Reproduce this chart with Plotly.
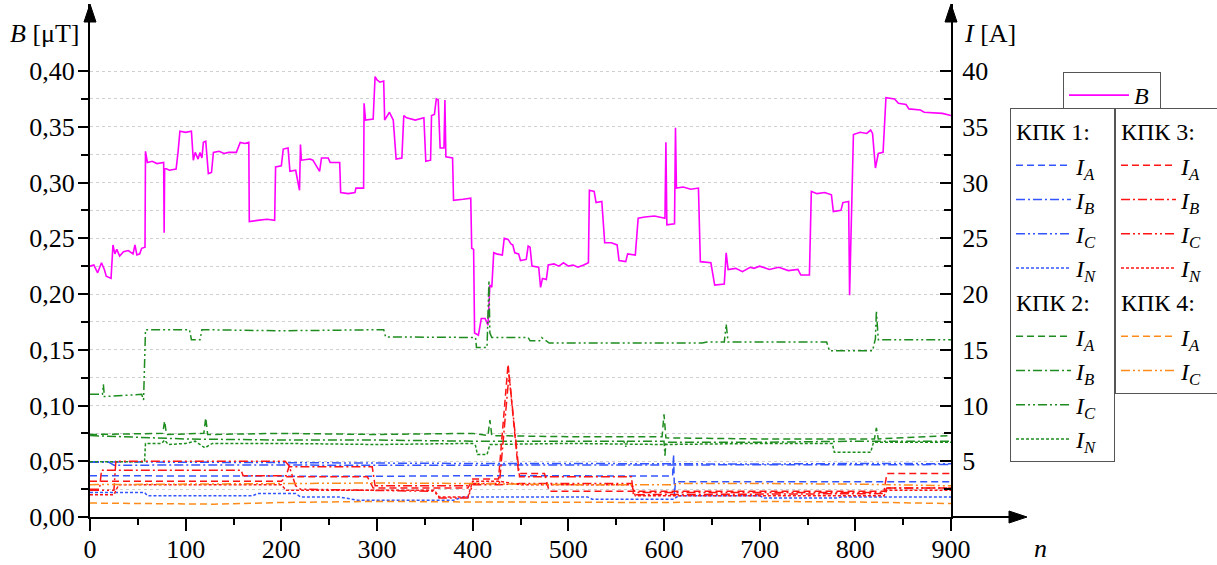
import plotly.graph_objects as go

# ---------------- data ----------------
B_n = [0, 4, 8, 12, 15, 17, 22, 24, 26, 28, 31, 35, 40, 45, 47, 49, 52, 54, 57.5,
       58, 60, 65, 70, 77, 77.5, 78, 83, 90, 92, 94, 100, 106, 108, 110, 113, 115, 117,
       118.5, 121, 123.7, 127, 129, 135, 140, 145, 153, 157, 162, 166, 166.5, 175, 185,
       193, 194, 200, 202, 207, 209, 215, 219, 220, 221, 230, 233, 240, 242, 249, 251,
       261, 262, 270, 277, 278, 286, 286.5, 288, 296, 298, 300, 303, 307, 308, 313, 317,
       320, 326, 328, 331, 340, 349, 351, 356, 357, 360, 362, 364, 366, 370, 371, 372,
       379, 380, 390, 398, 399, 401, 402, 406, 409, 413, 416, 418, 420, 422, 425, 431,
       433, 437, 440, 442, 444, 448, 450, 456, 458, 460, 462, 469, 471, 473, 477, 479,
       485, 490, 495, 500, 505, 510, 516, 521, 522, 527, 529, 535, 538, 545, 551, 553,
       560, 562, 570, 573, 580, 590, 601, 602, 603, 611, 612, 613, 620, 628, 636, 638,
       649, 653, 663, 665, 667, 675, 682, 690, 694, 700, 710, 720, 730, 740, 743, 752,
       754, 760, 768, 775, 777, 785, 787, 793, 794, 796, 798, 805, 812, 816, 818, 821,
       824, 829, 832, 841, 845, 853, 856, 868, 872, 891, 895, 900]
B_val = [0.225, 0.226, 0.219, 0.228, 0.222, 0.216, 0.214, 0.244, 0.236, 0.240, 0.234,
         0.238, 0.239, 0.236, 0.244, 0.235, 0.236, 0.241, 0.242,
         0.328, 0.318, 0.319, 0.317, 0.318, 0.255, 0.313, 0.311, 0.312, 0.327, 0.346,
         0.345, 0.346, 0.320, 0.327, 0.321, 0.327, 0.322,
         0.336, 0.337, 0.308, 0.309, 0.327, 0.328, 0.326, 0.327, 0.327, 0.336, 0.335,
         0.336, 0.265, 0.266, 0.267,
         0.266, 0.314, 0.315, 0.330, 0.331, 0.310, 0.311, 0.293, 0.334, 0.320, 0.321,
         0.320, 0.310, 0.322, 0.322, 0.318,
         0.318, 0.291, 0.290, 0.291, 0.295, 0.295, 0.371, 0.356, 0.357, 0.395, 0.392,
         0.390, 0.391, 0.356, 0.363, 0.356,
         0.321, 0.322, 0.360, 0.358, 0.356, 0.358, 0.319, 0.320, 0.360, 0.361, 0.375,
         0.374, 0.331, 0.331, 0.374, 0.323,
         0.322, 0.284, 0.285, 0.286, 0.241, 0.240, 0.165, 0.163, 0.178, 0.178, 0.172,
         0.208, 0.206, 0.237, 0.236, 0.235,
         0.250, 0.249, 0.245, 0.244, 0.237, 0.236, 0.230, 0.231, 0.243, 0.242, 0.225,
         0.224, 0.206, 0.214, 0.213, 0.226,
         0.227, 0.225, 0.228, 0.225, 0.226, 0.224, 0.226, 0.228, 0.293, 0.292, 0.282,
         0.283, 0.246, 0.246, 0.244, 0.230,
         0.229, 0.236, 0.235, 0.268, 0.269, 0.270, 0.268, 0.336, 0.262, 0.263, 0.349,
         0.295, 0.296, 0.294, 0.295, 0.229,
         0.228, 0.208, 0.209, 0.237, 0.222, 0.223, 0.220, 0.224, 0.223, 0.225, 0.222,
         0.224, 0.221, 0.222, 0.217, 0.217,
         0.292, 0.290, 0.291, 0.289, 0.274, 0.275, 0.282, 0.283, 0.199, 0.278, 0.343,
         0.345, 0.344, 0.347, 0.344, 0.313,
         0.326, 0.327, 0.376, 0.375, 0.371, 0.370, 0.366, 0.365, 0.363, 0.362, 0.361, 0.360]

# KPK 1 (blue)
k1_IA_n = [0, 100, 200, 300, 400, 500, 609, 610, 611, 612, 700, 800, 900]
k1_IA = [3.70, 3.68, 3.70, 3.65, 3.70, 3.68, 3.68, 5.6, 2.0, 3.17, 3.18, 3.15, 3.17]
k1_IB_n = [0, 20, 25, 100, 200, 300, 400, 500, 600, 700, 800, 900]
k1_IB = [4.9, 4.9, 4.65, 4.68, 4.66, 4.64, 4.66, 4.68, 4.66, 4.70, 4.72, 4.70]
k1_IC_n = [0, 100, 200, 300, 400, 500, 600, 700, 800, 900]
k1_IC = [4.95, 4.9, 4.85, 4.85, 4.8, 4.8, 4.75, 4.75, 4.8, 4.78]
k1_IN_n = [0, 57, 60, 170, 175, 215, 220, 260, 280, 380, 390, 520, 525, 610, 615,
           700, 705, 780, 785, 900]
k1_IN = [2.2, 2.2, 1.9, 1.9, 2.1, 2.1, 1.8, 1.8, 1.5, 1.5, 1.8, 1.8, 1.6, 1.6, 1.9,
         1.9, 1.7, 1.7, 1.8, 1.8]

# KPK 2 (green)
k2_IA_n = [0, 76, 78, 80, 119, 121, 123, 200, 300, 400, 416, 418, 420, 500, 598, 600,
           602, 700, 820, 822, 824, 880, 900]
k2_IA = [7.4, 7.5, 8.6, 7.4, 7.5, 8.9, 7.4, 7.5, 7.4, 7.5, 7.3, 8.7, 7.3, 7.2, 7.2,
         9.2, 7.1, 7.0, 7.0, 8.0, 7.0, 7.2, 7.3]
k2_IB_n = [0, 100, 200, 300, 400, 500, 558, 560, 562, 600, 601, 602, 700, 800, 900]
k2_IB = [7.3, 7.0, 6.9, 6.9, 6.8, 6.8, 6.8, 6.3, 6.8, 6.8, 5.5, 6.7, 6.7, 6.8, 6.8]
k2_IC_n = [0, 13, 14, 15, 54, 56, 58, 104, 106, 115, 117, 200, 307, 309, 403, 404,
           415, 417, 418, 420, 458, 460, 470, 472, 480, 640, 645, 663, 665, 667, 770,
           773, 818, 821, 822, 824, 900]
k2_IC = [11.0, 11.0, 11.9, 10.8, 11.0, 10.5, 16.8, 16.8, 15.9, 15.9, 16.8, 16.7, 16.8,
         16.15, 16.1, 15.2, 15.2, 21.2, 16.5, 16.1, 16.1, 15.8, 15.8, 16.1, 15.6, 15.6,
         15.7, 15.7, 17.3, 15.7, 15.7, 14.9, 14.9, 16.0, 18.5, 15.9, 15.9]
k2_IN_n = [0, 57, 58, 75, 78, 82, 100, 110, 120, 128, 200, 300, 400, 403, 405, 415,
           418, 500, 600, 700, 776, 778, 816, 819, 900]
k2_IN = [4.95, 4.95, 6.6, 6.6, 6.9, 6.5, 6.6, 6.8, 6.2, 6.6, 6.6, 6.5, 6.6, 6.4, 5.6,
         5.6, 6.5, 6.6, 6.5, 6.6, 6.6, 5.8, 5.8, 6.7, 6.7]

# KPK 3 (red)
k3_IA_n = [0, 200, 205, 290, 296, 395, 400, 427, 437, 448, 475, 480, 830, 833, 900]
k3_IA = [3.2, 3.2, 3.6, 3.6, 2.6, 2.6, 3.4, 3.4, 13.7, 3.9, 3.9, 2.3, 2.3, 3.9, 3.9]
k3_IB_n = [0, 10, 12, 158, 160, 205, 208, 295, 298, 395, 400, 428, 438, 449, 566,
           568, 830, 833, 900]
k3_IB = [2.5, 2.5, 4.2, 4.2, 3.7, 3.7, 4.5, 4.5, 2.8, 2.8, 3.0, 3.0, 12.8, 3.6, 3.6,
         2.0, 2.1, 2.6, 2.6]
k3_IC_n = [0, 25, 27, 204, 208, 215, 220, 300, 360, 365, 395, 400, 428, 450, 566,
           570, 830, 833, 900]
k3_IC = [2.4, 2.4, 5.0, 5.0, 4.6, 2.8, 2.5, 2.4, 2.3, 1.7, 1.7, 2.9, 2.9, 3.0, 3.0,
         2.2, 2.2, 2.6, 2.6]
k3_IN_n = [0, 25, 30, 200, 205, 360, 365, 395, 400, 428, 450, 566, 570, 830, 833, 900]
k3_IN = [2.0, 2.0, 2.9, 2.9, 2.4, 2.4, 1.8, 1.8, 3.2, 3.2, 2.9, 2.9, 1.9, 1.9, 2.4, 2.4]

# KPK 4 (orange)
k4_IA_n = [0, 100, 130, 200, 300, 400, 500, 600, 700, 800, 900]
k4_IA = [1.25, 1.2, 1.15, 1.3, 1.4, 1.35, 1.3, 1.3, 1.4, 1.35, 1.2]
k4_IC_n = [0, 100, 200, 300, 400, 500, 611, 615, 700, 800, 900]
k4_IC = [2.9, 2.95, 2.95, 3.05, 3.0, 2.9, 2.9, 3.0, 3.0, 2.95, 2.8]

x_ticks = [0, 100, 200, 300, 400, 500, 600, 700, 800, 900]
x_minor = [50, 150, 250, 350, 450, 550, 650, 750, 850]
B_ticks = [0.00, 0.05, 0.10, 0.15, 0.20, 0.25, 0.30, 0.35, 0.40]
B_minor = [0.025, 0.075, 0.125, 0.175, 0.225, 0.275, 0.325, 0.375]
I_ticks = [5, 10, 15, 20, 25, 30, 35, 40]
I_minor = [2.5, 7.5, 12.5, 17.5, 22.5, 27.5, 32.5, 37.5]

# ---------------- style ----------------
FONT = "'Liberation Serif', 'Times New Roman', Times, serif"
BLUE, GREEN, RED, ORANGE, MAG = "#3355FF", "#1E8C1E", "#FF1414", "#FF8C1A", "#FF00FF"
DASH = {"A": "7px,4px", "B": "9px,3px,2px,3px", "C": "9px,3px,2px,3px,2px,3px",
        "N": "3px,2px"}
LEGFONT = 24
GRID = "#cfcfcf"
PAD = "&nbsp;"

# plot area in pixels
L, R, T, Bm = 90, 951, 4, 517
W_fig, H_fig = 1217, 565
pw, ph = R - L, Bm - T
Ytop = ph / 1115.0          # 0.40 units per 446 px

fig = go.Figure()

def lbl(s, pad):
    return "<i>I</i><sub><i>%s</i></sub>%s" % (s, PAD * pad)

series = [
    ("КПК 1:", "k1", BLUE, "legend2", 2,
     [("A", k1_IA_n, k1_IA), ("B", k1_IB_n, k1_IB), ("C", k1_IC_n, k1_IC), ("N", k1_IN_n, k1_IN)]),
    ("КПК 2:", "k2", GREEN, "legend2", 2,
     [("A", k2_IA_n, k2_IA), ("B", k2_IB_n, k2_IB), ("C", k2_IC_n, k2_IC), ("N", k2_IN_n, k2_IN)]),
    ("КПК 3:", "k3", RED, "legend3", 5,
     [("A", k3_IA_n, k3_IA), ("B", k3_IB_n, k3_IB), ("C", k3_IC_n, k3_IC), ("N", k3_IN_n, k3_IN)]),
    ("КПК 4:", "k4", ORANGE, "legend3", 5,
     [("A", k4_IA_n, k4_IA), ("C", k4_IC_n, k4_IC)]),
]

fig.add_trace(go.Scatter(x=B_n, y=B_val, mode="lines", name="<i>B</i>" + PAD,
                         line=dict(color=MAG, width=1.6), yaxis="y", legend="legend"))

for title, grp, col, leg, pad, items in series:
    for ph_, xs, ys in items:
        fig.add_trace(go.Scatter(
            x=xs, y=ys, mode="lines", name=lbl(ph_, pad), yaxis="y2",
            line=dict(color=col, width=1.5, dash=DASH[ph_]),
            legend=leg, legendgroup=grp,
            legendgrouptitle=dict(text=title, font=dict(family=FONT, size=LEGFONT, color="black"))))

axis_common = dict(showline=True, linecolor="black", linewidth=2, zeroline=False,
                   tickcolor="black", tickwidth=2,
                   tickfont=dict(family=FONT, size=26, color="black"))

leg_common = dict(xanchor="left", yanchor="top", bordercolor="#555555", borderwidth=1,
                  bgcolor="white",
                  font=dict(family=FONT, size=LEGFONT, color="black"))

fig.update_layout(
    width=W_fig, height=H_fig,
    margin=dict(l=L, r=W_fig - R, t=T, b=H_fig - Bm, autoexpand=False),
    paper_bgcolor="white", plot_bgcolor="white",
    separators=", ",
    font=dict(family=FONT, size=LEGFONT, color="black"),
    xaxis=dict(range=[0, 900], tickmode="array", tickvals=x_ticks, ticks="outside",
               ticklen=12, showgrid=False, ticklabelstandoff=-4,
               minor=dict(tickmode="array", tickvals=x_minor, ticks="outside", ticklen=6,
                          tickcolor="black", tickwidth=2, showgrid=False),
               **axis_common),
    yaxis=dict(range=[0, Ytop], tickmode="array", tickvals=B_ticks, tickformat=".2f",
               ticks="outside", ticklen=10, showgrid=True, gridcolor=GRID,
               griddash="dot", gridwidth=1, ticklabelstandoff=-2,
               minor=dict(tickmode="array", tickvals=B_minor, ticks="outside", ticklen=7,
                          tickcolor="black", tickwidth=2, showgrid=True,
                          gridcolor=GRID, griddash="dot", gridwidth=1),
               **axis_common),
    yaxis2=dict(range=[0, Ytop * 100], overlaying="y", side="right", anchor="x",
                tickmode="array", tickvals=I_ticks, ticks="inside", ticklen=11,
                showgrid=False, ticklabelstandoff=4,
                minor=dict(tickmode="array", tickvals=I_minor, ticks="inside", ticklen=7,
                           tickcolor="black", tickwidth=2, showgrid=False),
                **axis_common),
    legend=dict(x=(1063 - L) / pw, y=(Bm - 72) / ph, itemwidth=60, **leg_common),
    legend2=dict(x=(1010 - L) / pw, y=(Bm - 108) / ph, traceorder="grouped",
                 tracegroupgap=0, itemwidth=55, **leg_common),
    legend3=dict(x=(1115 - L) / pw, y=(Bm - 108) / ph, traceorder="grouped",
                 tracegroupgap=0, itemwidth=55, **leg_common),
    showlegend=True,
)

# axis arrows (decoration)
ax_len = (1027 - L) / pw
ah_w = 6.0 / pw
ah_h = 6.0 / ph
shapes = [
    dict(type="line", xref="paper", yref="paper", x0=1, x1=ax_len - 18.0 / pw, y0=0, y1=0,
         line=dict(color="black", width=2)),
    dict(type="path", xref="paper", yref="paper",
         path="M %f %f L %f 0 L %f %f Z" % (ax_len - 18.0 / pw, ah_h, ax_len, ax_len - 18.0 / pw, -ah_h),
         fillcolor="black", line=dict(color="black", width=1)),
]
for xp in (0, 1):
    shapes.append(dict(type="path", xref="paper", yref="paper",
                       path="M %f %f L %f 1 L %f %f Z" % (xp - ah_w, 1 - 18.0 / ph, xp, xp + ah_w, 1 - 18.0 / ph),
                       fillcolor="black", line=dict(color="black", width=1)))
fig.update_layout(shapes=shapes)

fig.add_annotation(xref="paper", yref="paper", x=(82 - L) / pw, y=(Bm - 33) / ph,
                   xanchor="right", yanchor="middle", showarrow=False,
                   text="<i>B</i> [μT]", font=dict(family=FONT, size=26, color="black"))
fig.add_annotation(xref="paper", yref="paper", x=(962 - L) / pw, y=(Bm - 33) / ph,
                   xanchor="left", yanchor="middle", showarrow=False,
                   text="<i>I</i> [A]", font=dict(family=FONT, size=26, color="black"))
fig.add_annotation(xref="paper", yref="paper", x=(1040 - L) / pw, y=(Bm - 548) / ph,
                   xanchor="center", yanchor="middle", showarrow=False,
                   text="<i>n</i>", font=dict(family=FONT, size=26, color="black"))

fig.write_html("out.html", config={"displayModeBar": False},
               post_script="document.body.style.margin='0';document.body.style.padding='0';")
